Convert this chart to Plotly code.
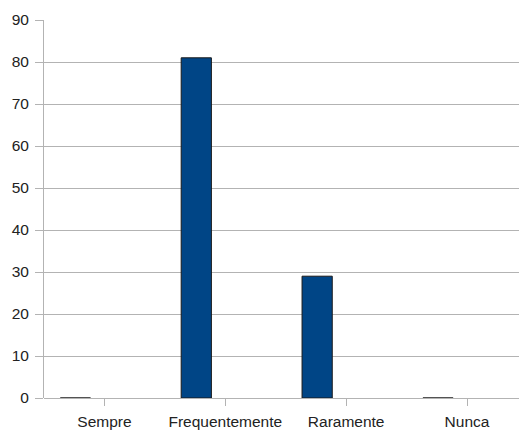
import plotly.graph_objects as go

categories = ["Sempre", "Frequentemente", "Raramente", "Nunca"]
values = [0, 81, 29, 0]
y_ticks = [0, 10, 20, 30, 40, 50, 60, 70, 80, 90]

grid = "#b3b3b3"
font = dict(family="Liberation Sans, Arial, sans-serif", size=15.5, color="#222222")

fig = go.Figure(
    go.Bar(
        x=categories,
        y=values,
        width=0.25,
        offset=-0.365,
        marker=dict(color="#004586", line=dict(color="#1a1a1a", width=1)),
    )
)

fig.update_layout(
    width=519,
    height=430,
    margin=dict(l=44, r=0, t=20, b=32),
    paper_bgcolor="white",
    plot_bgcolor="white",
    font=font,
    showlegend=False,
)

fig.update_xaxes(
    type="category",
    range=[-0.5, 3.43],
    showgrid=False,
    showline=False,
    ticks="outside",
    ticklen=7,
    tickcolor=grid,
    tickfont=font,
    ticklabelstandoff=2,
)

fig.update_yaxes(
    range=[0, 90],
    tickvals=y_ticks,
    showgrid=True,
    gridcolor=grid,
    gridwidth=1,
    zeroline=True,
    zerolinecolor=grid,
    zerolinewidth=1,
    showline=True,
    linecolor=grid,
    linewidth=1,
    ticks="outside",
    ticklen=8,
    tickcolor=grid,
    tickfont=font,
    ticklabelstandoff=3,
)

fig.write_html("out.html")
